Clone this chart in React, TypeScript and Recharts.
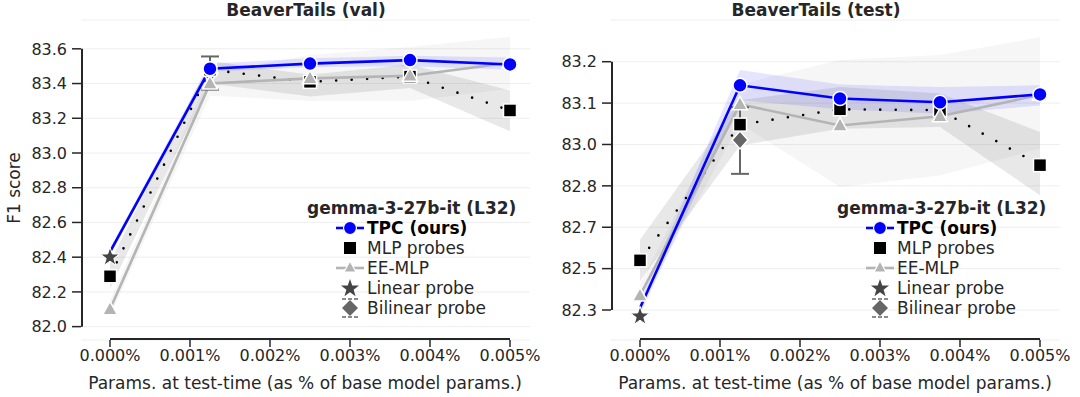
import React from "react";
import {
  ComposedChart,
  Line,
  Area,
  Scatter,
  XAxis,
  YAxis,
  CartesianGrid,
  ErrorBar,
} from "recharts";

// x positions (% of base model params)
const xs = [0, 0.00125, 0.0025, 0.00375, 0.005];
const xTicks = [0, 0.001, 0.002, 0.003, 0.004, 0.005];

// BeaverTails (val)
const valTicks = [82.0, 82.2, 82.4, 82.6, 82.8, 83.0, 83.2, 83.4, 83.6];
const tpcVal = [82.43, 83.485, 83.515, 83.535, 83.51];
const tpcValLo = [82.41, 83.468, 83.495, 83.5, 83.48];
const tpcValHi = [82.45, 83.515, 83.545, 83.56, 83.55];
const mlpVal = [82.29, 83.48, 83.41, 83.44, 83.245];
const mlpValLo = [82.22, 83.4, 83.325, 83.375, 83.125];
const mlpValHi = [82.37, 83.53, 83.45, 83.51, 83.36];
const eeVal = [82.1, 83.4, 83.43, 83.445, 83.52];
const eeValLo = [82.06, 83.33, 83.3, 83.3, 83.37];
const eeValHi = [82.15, 83.46, 83.565, 83.61, 83.67];
const linearVal = 82.4;
const bilinearVal = { y: 83.46, lo: 83.365, hi: 83.556 };

// BeaverTails (test) -- tick labels are evenly spaced on the page
const testTicks = [82.3, 82.5, 82.7, 82.8, 83.0, 83.1, 83.2];
const tpcTest = [82.31, 83.143, 83.111, 83.102, 83.121];
const tpcTestLo = [82.28, 83.107, 83.085, 83.074, 83.094];
const tpcTestHi = [82.34, 83.18, 83.145, 83.139, 83.143];
const mlpTest = [82.54, 83.048, 83.085, 83.083, 82.9];
const mlpTestLo = [82.44, 82.995, 83.038, 83.042, 82.777];
const mlpTestHi = [82.64, 83.107, 83.139, 83.123, 83.03];
const eeTest = [82.37, 83.097, 83.046, 83.068, 83.12];
const eeTestLo = [82.33, 83.05, 82.797, 82.85, 82.98];
const eeTestHi = [82.42, 83.145, 83.204, 83.216, 83.259];
const linearTest = 82.27;
const bilinearTest = { y: 83.011, lo: 82.858, hi: 83.09 };

const BLUE = "#0000ff";
const GREY = "#b4b4b4";
const INK = "#262626";
const FONT = "DejaVu Sans";
const X_MIN = -0.0003625;
const X_MAX = 0.00525;
const X_SPINE = -0.00035;
const W = 540;
const H = 397;
const TOP = 20;
const PLOT_H = 320;

// position of a test value between the (uneven) tick labels
function toAxis(v: number) {
  const t = testTicks;
  let i = 0;
  if (v >= t[t.length - 1]) i = t.length - 2;
  else if (v > t[0]) {
    while (v > t[i + 1]) i++;
  }
  return i + (v - t[i]) / (t[i + 1] - t[i]);
}
const same = (v: number) => v;

function buildRows(conv: (v: number) => number, tpc, tpcLo, tpcHi, mlp, mlpLo, mlpHi, ee, eeLo, eeHi) {
  return xs.map((x, i) => ({
    x,
    tpc: conv(tpc[i]),
    tpcBand: [conv(tpcLo[i]), conv(tpcHi[i])],
    mlp: conv(mlp[i]),
    mlpBand: [conv(mlpLo[i]), conv(mlpHi[i])],
    ee: conv(ee[i]),
    eeBand: [conv(eeLo[i]), conv(eeHi[i])],
  }));
}

const valRows = buildRows(same, tpcVal, tpcValLo, tpcValHi, mlpVal, mlpValLo, mlpValHi, eeVal, eeValLo, eeValHi);
const testRows = buildRows(toAxis, tpcTest, tpcTestLo, tpcTestHi, mlpTest, mlpTestLo, mlpTestHi, eeTest, eeTestLo, eeTestHi);

const circleDot = (p: any) =>
  p.index === 0 || p.cy == null ? (
    <g key={p.key} />
  ) : (
    <circle key={p.key} cx={p.cx} cy={p.cy} r={7} fill={BLUE} stroke="#fff" strokeWidth={1.5} />
  );

const squareDot = (p: any) =>
  p.cy == null ? (
    <g key={p.key} />
  ) : (
    <rect key={p.key} x={p.cx - 6.5} y={p.cy - 6.5} width={13} height={13} fill="#000" stroke="#fff" strokeWidth={1.5} />
  );

const triangleDot = (p: any) =>
  p.cy == null ? (
    <g key={p.key} />
  ) : (
    <path
      key={p.key}
      d={`M${p.cx},${p.cy - 8} L${p.cx + 7.5},${p.cy + 5.5} L${p.cx - 7.5},${p.cy + 5.5} Z`}
      fill={GREY}
      stroke="#fff"
      strokeWidth={1.5}
    />
  );

function starPath(cx: number, cy: number, R: number, r: number) {
  const pts: string[] = [];
  for (let k = 0; k < 10; k++) {
    const a = -Math.PI / 2 + (k * Math.PI) / 5;
    const rad = k % 2 === 0 ? R : r;
    pts.push(`${cx + rad * Math.cos(a)},${cy + rad * Math.sin(a)}`);
  }
  return `M${pts.join(" L")} Z`;
}

const starShape = (p: any) => (
  <path d={starPath(p.cx, p.cy, 10, 4)} fill="#444" stroke="#fff" strokeWidth={1} />
);

const diamondShape = (p: any) => (
  <path
    d={`M${p.cx},${p.cy - 9} L${p.cx + 8},${p.cy} L${p.cx},${p.cy + 9} L${p.cx - 8},${p.cy} Z`}
    fill="#666"
    stroke="#fff"
    strokeWidth={1.5}
  />
);

function Panel({ rows, yDomain, yTicks, fmt, linear, bilinear, yWidth, marginRight, conv, spineLo, spineHi }) {
  const linearData = [{ x: 0, y: conv(linear) }];
  const by = conv(bilinear.y);
  const bilinearData = [{ x: 0.00125, y: by, err: [by - conv(bilinear.lo), conv(bilinear.hi) - by] }];

  // trimmed spines (seaborn despine look), same mapping as the chart's plot area
  const plotW = W - yWidth - marginRight;
  const px = (v: number) => yWidth + ((v - X_MIN) / (X_MAX - X_MIN)) * plotW;
  const py = (v: number) => TOP + ((yDomain[1] - v) / (yDomain[1] - yDomain[0])) * PLOT_H;

  return (
    <div style={{ position: "relative", width: W, height: H }}>
      <ComposedChart width={W} height={H} data={rows} margin={{ top: TOP, right: marginRight, bottom: 0, left: 0 }}>
        <CartesianGrid vertical={false} stroke="#eeeeee" />
        <XAxis
          type="number"
          dataKey="x"
          domain={[X_MIN, X_MAX]}
          ticks={xTicks}
          interval={0}
          tickFormatter={(v: number) => `${v.toFixed(3)}%`}
          axisLine={false}
          tickSize={7}
          tickMargin={3}
          height={H - TOP - PLOT_H}
          tickLine={{ stroke: INK, strokeWidth: 1.5 }}
          tick={{ fontSize: 16, fill: INK, fontFamily: FONT }}
        />
        <YAxis
          type="number"
          domain={yDomain}
          ticks={yTicks}
          interval={0}
          tickFormatter={fmt}
          axisLine={false}
          width={yWidth}
          tickSize={9}
          tickMargin={5}
          tickLine={{ stroke: INK, strokeWidth: 1.5 }}
          tick={{ fontSize: 16, fill: INK, fontFamily: FONT }}
        />
        <Area dataKey="eeBand" stroke="none" fill="#808080" fillOpacity={0.07} isAnimationActive={false} activeDot={false} />
        <Area dataKey="mlpBand" stroke="none" fill="#808080" fillOpacity={0.18} isAnimationActive={false} activeDot={false} />
        <Area dataKey="tpcBand" stroke="none" fill={BLUE} fillOpacity={0.1} isAnimationActive={false} activeDot={false} />
        <Line
          dataKey="mlp"
          stroke="#000"
          strokeWidth={2.6}
          strokeDasharray="0 15.5"
          strokeLinecap="round"
          dot={squareDot}
          activeDot={false}
          isAnimationActive={false}
        />
        <Line dataKey="ee" stroke={GREY} strokeWidth={2.6} dot={triangleDot} activeDot={false} isAnimationActive={false} />
        <Scatter data={bilinearData} dataKey="y" shape={diamondShape} isAnimationActive={false}>
          <ErrorBar dataKey="err" direction="y" width={9} stroke="#666" strokeWidth={2} />
        </Scatter>
        <Line dataKey="tpc" stroke={BLUE} strokeWidth={2.6} dot={circleDot} activeDot={false} isAnimationActive={false} />
        <Scatter data={linearData} dataKey="y" shape={starShape} isAnimationActive={false} />
      </ComposedChart>
      <svg width={W} height={H} style={{ position: "absolute", left: 0, top: 0, pointerEvents: "none" }}>
        <line x1={px(X_SPINE)} y1={py(spineLo)} x2={px(X_SPINE)} y2={py(spineHi)} stroke={INK} strokeWidth={2} />
        <line x1={px(0)} y1={TOP + PLOT_H - 1} x2={px(0.005)} y2={TOP + PLOT_H - 1} stroke={INK} strokeWidth={2} />
      </svg>
    </div>
  );
}

function LegendGlyph({ kind }: { kind: string }) {
  return (
    <svg width={34} height={20} style={{ display: "block" }}>
      {kind === "tpc" && (
        <g>
          <line x1={3} y1={10} x2={31} y2={10} stroke={BLUE} strokeWidth={2.6} />
          <circle cx={17} cy={10} r={6.5} fill={BLUE} stroke="#fff" strokeWidth={1.2} />
        </g>
      )}
      {kind === "mlp" && <rect x={11} y={4} width={12} height={12} fill="#000" />}
      {kind === "ee" && (
        <g>
          <line x1={3} y1={10} x2={31} y2={10} stroke={GREY} strokeWidth={2.6} />
          <path d="M17,3 L23,14 L11,14 Z" fill={GREY} stroke="#fff" strokeWidth={1.2} />
        </g>
      )}
      {kind === "linear" && <path d={starPath(17, 10.5, 9.5, 3.8)} fill="#444" />}
      {kind === "bilinear" && (
        <g>
          <line x1={9} y1={1} x2={25} y2={1} stroke="#666" strokeWidth={1.5} strokeDasharray="4 2" />
          <line x1={9} y1={19} x2={25} y2={19} stroke="#666" strokeWidth={1.5} strokeDasharray="4 2" />
          <path d="M17,2 L25,10 L17,18 L9,10 Z" fill="#666" />
        </g>
      )}
    </svg>
  );
}

const legendItems = [
  { kind: "tpc", label: "TPC (ours)", bold: true },
  { kind: "mlp", label: "MLP probes", bold: false },
  { kind: "ee", label: "EE-MLP", bold: false },
  { kind: "linear", label: "Linear probe", bold: false },
  { kind: "bilinear", label: "Bilinear probe", bold: false },
];

function LegendBox({ left }: { left: number }) {
  return (
    <div style={{ position: "absolute", left, top: 198, fontSize: 17, color: INK, fontFamily: FONT }}>
      <div style={{ fontWeight: "bold", height: 20, lineHeight: "20px", whiteSpace: "nowrap" }}>gemma-3-27b-it (L32)</div>
      {legendItems.map((it) => (
        <div key={it.kind} style={{ display: "flex", alignItems: "center", height: 20, marginLeft: 26 }}>
          <LegendGlyph kind={it.kind} />
          <span style={{ fontWeight: it.bold ? "bold" : "normal", color: it.bold ? "#000" : INK, whiteSpace: "nowrap" }}>
            {it.label}
          </span>
        </div>
      ))}
    </div>
  );
}

const textStyle: React.CSSProperties = {
  position: "absolute",
  fontFamily: FONT,
  color: INK,
  whiteSpace: "nowrap",
  transform: "translate(-50%, -50%)",
};

export default function App() {
  const testIdx = testTicks.map((_, i) => i);
  return (
    <div style={{ position: "absolute", left: 0, top: 0, width: 1080, height: 397, background: "#fff" }}>
      <div style={{ position: "absolute", left: 0, top: 0 }}>
        <Panel
          rows={valRows}
          yDomain={[81.923, 83.766]}
          yTicks={valTicks}
          fmt={(v: number) => v.toFixed(1)}
          conv={same}
          spineLo={valTicks[0]}
          spineHi={valTicks[valTicks.length - 1]}
          linear={linearVal}
          bilinear={bilinearVal}
          yWidth={81}
          marginRight={10}
        />
      </div>
      <div style={{ position: "absolute", left: 540, top: 0 }}>
        <Panel
          rows={testRows}
          yDomain={[-0.725, 7.008]}
          yTicks={testIdx}
          fmt={(i: number) => testTicks[i].toFixed(1)}
          conv={toAxis}
          spineLo={0}
          spineHi={testTicks.length - 1}
          linear={linearTest}
          bilinear={bilinearTest}
          yWidth={71}
          marginRight={20}
        />
      </div>
      <div style={{ ...textStyle, left: 306, top: 10, fontSize: 17, fontWeight: "bold" }}>BeaverTails (val)</div>
      <div style={{ ...textStyle, left: 816, top: 10, fontSize: 17, fontWeight: "bold" }}>BeaverTails (test)</div>
      <div style={{ ...textStyle, left: 14, top: 188, fontSize: 17, transform: "translate(-50%, -50%) rotate(-90deg)" }}>
        F1 score
      </div>
      <div style={{ ...textStyle, left: 305, top: 383, fontSize: 17 }}>Params. at test-time (as % of base model params.)</div>
      <div style={{ ...textStyle, left: 835, top: 383, fontSize: 17 }}>Params. at test-time (as % of base model params.)</div>
      <LegendBox left={307} />
      <LegendBox left={837} />
    </div>
  );
}
